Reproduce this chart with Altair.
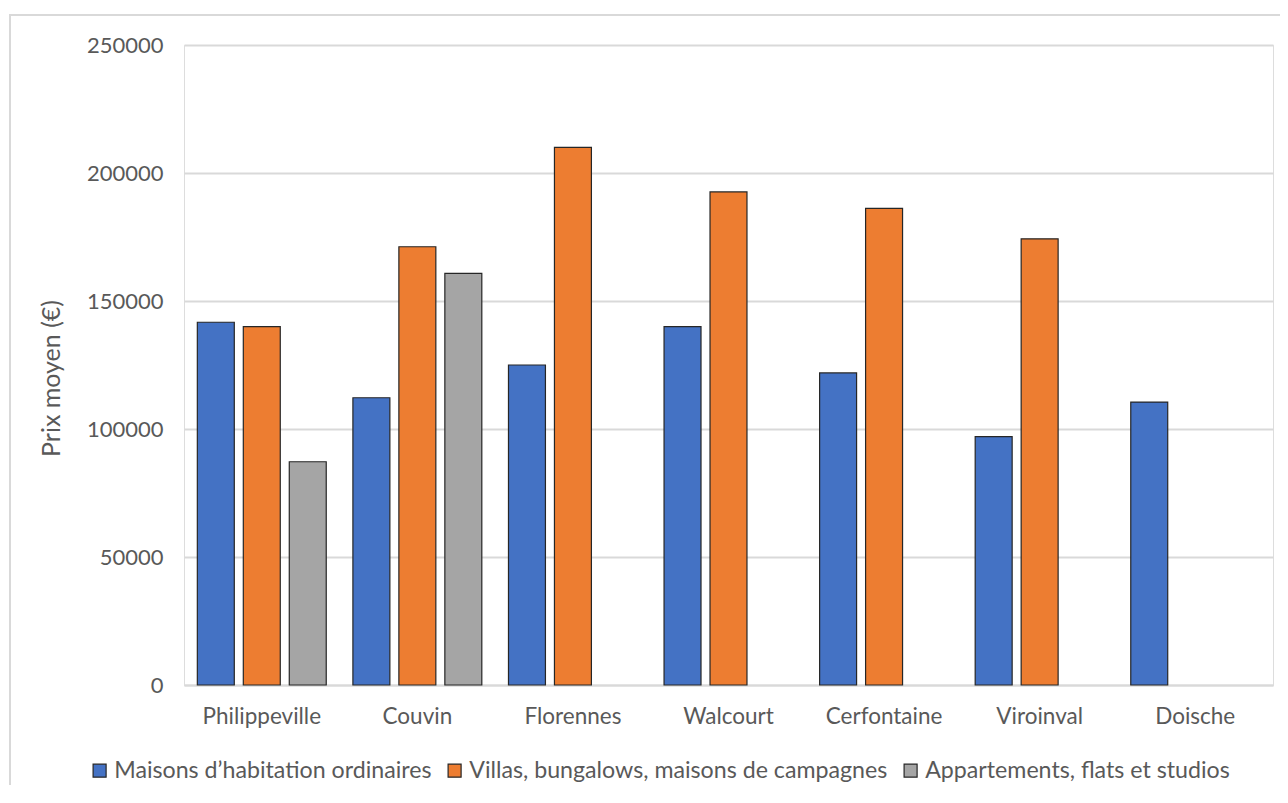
import altair as alt
import pandas as pd

towns = ["Philippeville", "Couvin", "Florennes", "Walcourt", "Cerfontaine", "Viroinval", "Doische"]
types = [
    "Maisons d\u2019habitation ordinaires",
    "Villas, bungalows, maisons de campagnes",
    "Appartements, flats et studios",
]
maisons = [141700, 112200, 125000, 140000, 121900, 97000, 110500]
villas = [140000, 171200, 210000, 192600, 186200, 174300, None]
apparts = [87200, 160800, None, None, None, None, None]
colors = ["#4472C4", "#ED7D31", "#A5A5A5"]
y_ticks = [0, 50000, 100000, 150000, 200000, 250000]

rows = []
for series, vals in zip(types, [maisons, villas, apparts]):
    for t, v in zip(towns, vals):
        if v is not None:
            rows.append({"Commune": t, "Type": series, "Prix": v})
df = pd.DataFrame(rows)

FONT = "Lato"
TXT = "#595959"

frame = alt.Chart(alt.Data(values=[{}])).mark_rect(
    fill="transparent", stroke="#D9D9D9", strokeWidth=2
).encode(
    x=alt.value(-174), x2=alt.value(1400), y=alt.value(-30), y2=alt.value(900)
)

bars = alt.Chart(df).mark_bar(stroke="#262626", strokeWidth=1.2).encode(
    x=alt.X(
        "Commune:N",
        sort=towns,
        scale=alt.Scale(paddingInner=0, paddingOuter=0),
        axis=alt.Axis(
            title=None,
            labelAngle=0,
            labelFontSize=22.5,
            labelColor=TXT,
            labelFont=FONT,
            labelPadding=20,
            ticks=False,
            domainColor="#D9D9D9",
            domainWidth=2,
        ),
    ),
    xOffset=alt.XOffset(
        "Type:N",
        sort=types,
        scale=alt.Scale(domain=types, paddingInner=0.196, paddingOuter=0.29),
    ),
    y=alt.Y(
        "Prix:Q",
        scale=alt.Scale(domain=[0, 250000], nice=False),
        axis=alt.Axis(
            title="Prix moyen (\u20ac)",
            values=y_ticks,
            format="d",
            labelFontSize=22,
            labelColor=TXT,
            labelFont=FONT,
            labelPadding=21,
            ticks=False,
            domain=False,
            gridColor="#D9D9D9",
            gridWidth=2,
            titleFontSize=25,
            titleFont=FONT,
            titleFontWeight="normal",
            titleColor=TXT,
            titleX=-133,
            titleY=333,
            titleAngle=-90,
            titleAlign="center",
            titleBaseline="middle",
        ),
    ),
    color=alt.Color(
        "Type:N",
        sort=types,
        scale=alt.Scale(domain=types, range=colors),
        legend=alt.Legend(
            title=None,
            orient="none",
            direction="horizontal",
            legendX=-96,
            legendY=714,
            symbolType="square",
            symbolSize=169,
            symbolStrokeColor="#262626",
            symbolStrokeWidth=1.2,
            labelFontSize=23.2,
            labelFont=FONT,
            labelColor=TXT,
            labelOffset=3,
            columnPadding=11,
            labelLimit=600,
        ),
    ),
)

chart = alt.layer(frame, bars).properties(
    width=1089,
    height=640,
    padding={"left": 176, "top": 37, "right": 7, "bottom": 100},
    autosize=alt.AutoSizeParams(type="none"),
    background="white",
).configure_view(stroke=None).configure(font=FONT)

chart.save("out.html", embed_options={"renderer": "svg", "actions": False})
